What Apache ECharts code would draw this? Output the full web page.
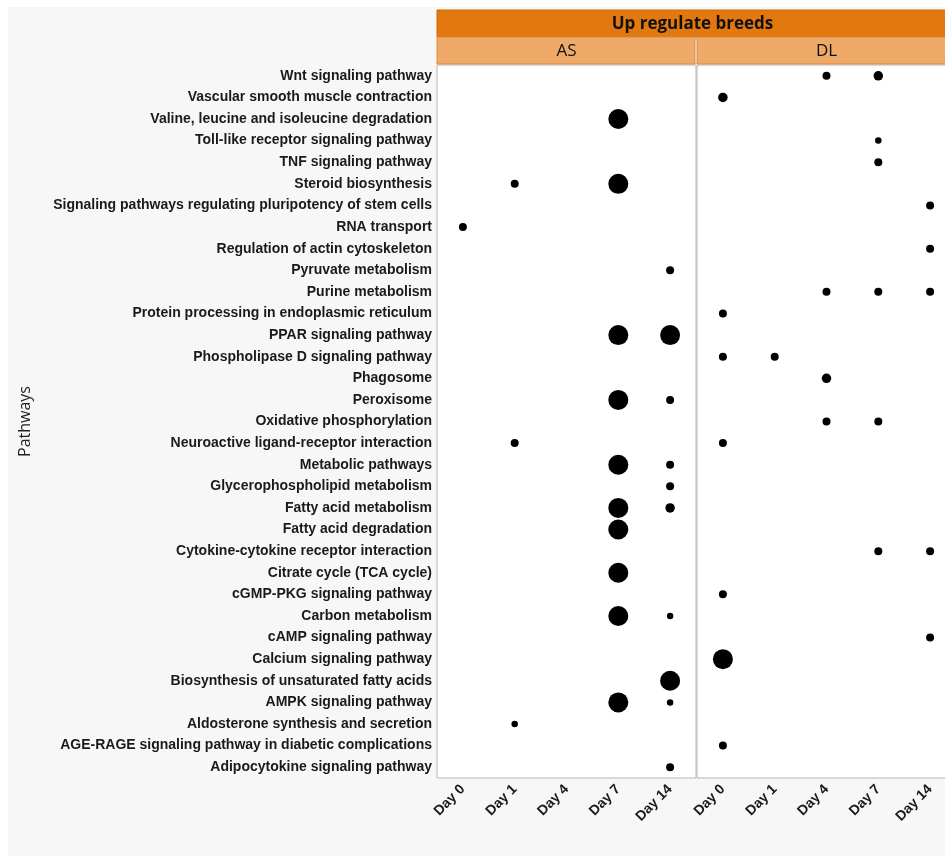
<!DOCTYPE html>
<html>
<head>
<meta charset="utf-8">
<script src="https://cdn.jsdelivr.net/npm/echarts@6/dist/echarts.min.js"></script>
<style>
  html, body { margin: 0; padding: 0; background: #ffffff; }
  #chart { width: 945px; height: 859px; }
</style>
</head>
<body>
<div id="chart"></div>
<script>
// Pathways listed top to bottom
const pathways = [
  'Wnt signaling pathway',
  'Vascular smooth muscle contraction',
  'Valine, leucine and isoleucine degradation',
  'Toll-like receptor signaling pathway',
  'TNF signaling pathway',
  'Steroid biosynthesis',
  'Signaling pathways regulating pluripotency of stem cells',
  'RNA transport',
  'Regulation of actin cytoskeleton',
  'Pyruvate metabolism',
  'Purine metabolism',
  'Protein processing in endoplasmic reticulum',
  'PPAR signaling pathway',
  'Phospholipase D signaling pathway',
  'Phagosome',
  'Peroxisome',
  'Oxidative phosphorylation',
  'Neuroactive ligand-receptor interaction',
  'Metabolic pathways',
  'Glycerophospholipid metabolism',
  'Fatty acid metabolism',
  'Fatty acid degradation',
  'Cytokine-cytokine receptor interaction',
  'Citrate cycle (TCA cycle)',
  'cGMP-PKG signaling pathway',
  'Carbon metabolism',
  'cAMP signaling pathway',
  'Calcium signaling pathway',
  'Biosynthesis of unsaturated fatty acids',
  'AMPK signaling pathway',
  'Aldosterone synthesis and secretion',
  'AGE-RAGE signaling pathway in diabetic complications',
  'Adipocytokine signaling pathway'
];

const days = ['Day 0', 'Day 1', 'Day 4', 'Day 7', 'Day 14'];
const breeds = ['AS', 'DL'];
const headerTitle = 'Up regulate breeds';

// [day, pathway, count]
const pointsAS = [
  ['Day 7', 'Valine, leucine and isoleucine degradation', 10],
  ['Day 1', 'Steroid biosynthesis', 2],
  ['Day 7', 'Steroid biosynthesis', 10],
  ['Day 0', 'RNA transport', 2],
  ['Day 14', 'Pyruvate metabolism', 2],
  ['Day 7', 'PPAR signaling pathway', 10],
  ['Day 14', 'PPAR signaling pathway', 10],
  ['Day 7', 'Peroxisome', 10],
  ['Day 14', 'Peroxisome', 2],
  ['Day 1', 'Neuroactive ligand-receptor interaction', 2],
  ['Day 7', 'Metabolic pathways', 10],
  ['Day 14', 'Metabolic pathways', 2],
  ['Day 14', 'Glycerophospholipid metabolism', 2],
  ['Day 7', 'Fatty acid metabolism', 10],
  ['Day 14', 'Fatty acid metabolism', 3],
  ['Day 7', 'Fatty acid degradation', 10],
  ['Day 7', 'Citrate cycle (TCA cycle)', 10],
  ['Day 7', 'Carbon metabolism', 10],
  ['Day 14', 'Carbon metabolism', 1],
  ['Day 14', 'Biosynthesis of unsaturated fatty acids', 10],
  ['Day 7', 'AMPK signaling pathway', 10],
  ['Day 14', 'AMPK signaling pathway', 1],
  ['Day 1', 'Aldosterone synthesis and secretion', 1],
  ['Day 14', 'Adipocytokine signaling pathway', 2]
];

const pointsDL = [
  ['Day 4', 'Wnt signaling pathway', 2],
  ['Day 7', 'Wnt signaling pathway', 3],
  ['Day 0', 'Vascular smooth muscle contraction', 3],
  ['Day 7', 'Toll-like receptor signaling pathway', 1],
  ['Day 7', 'TNF signaling pathway', 2],
  ['Day 14', 'Signaling pathways regulating pluripotency of stem cells', 2],
  ['Day 14', 'Regulation of actin cytoskeleton', 2],
  ['Day 4', 'Purine metabolism', 2],
  ['Day 7', 'Purine metabolism', 2],
  ['Day 14', 'Purine metabolism', 2],
  ['Day 0', 'Protein processing in endoplasmic reticulum', 2],
  ['Day 0', 'Phospholipase D signaling pathway', 2],
  ['Day 1', 'Phospholipase D signaling pathway', 2],
  ['Day 4', 'Phagosome', 3],
  ['Day 4', 'Oxidative phosphorylation', 2],
  ['Day 7', 'Oxidative phosphorylation', 2],
  ['Day 0', 'Neuroactive ligand-receptor interaction', 2],
  ['Day 7', 'Cytokine-cytokine receptor interaction', 2],
  ['Day 14', 'Cytokine-cytokine receptor interaction', 2],
  ['Day 0', 'cGMP-PKG signaling pathway', 2],
  ['Day 14', 'cAMP signaling pathway', 2],
  ['Day 0', 'Calcium signaling pathway', 10],
  ['Day 0', 'AGE-RAGE signaling pathway in diabetic complications', 2]
];

// dot diameter grows with count
function dotSize(v) { return 5 + 1.5 * v[2]; }

const chart = echarts.init(document.getElementById('chart'), null, { renderer: 'canvas' });

const gridTop = 65, gridHeight = 713, panelW = 259;
const leftAS = 437, leftDL = 697;
const labelFont = "'Liberation Sans', Arial, sans-serif";
const stripFont = "'Open Sans', 'Noto Sans', sans-serif";

const xLabel = {
  rotate: 45,
  fontFamily: labelFont,
  fontWeight: 'bold',
  fontSize: 14,
  color: '#1a1a1a',
  margin: 9,
  interval: 0
};

function xAxisFor(gi) {
  return {
    type: 'category', gridIndex: gi, data: days,
    axisLine: { show: false }, axisTick: { show: false },
    splitLine: { show: false },
    axisLabel: xLabel
  };
}

function yAxisFor(gi, showLabels) {
  return {
    type: 'category', gridIndex: gi, data: pathways, inverse: true,
    axisLine: { show: false }, axisTick: { show: false },
    splitLine: { show: false },
    name: showLabels ? 'Pathways' : '',
    nameLocation: 'middle',
    nameGap: 404,
    nameTextStyle: { fontFamily: stripFont, fontSize: 16, color: '#222' },
    axisLabel: {
      show: showLabels,
      fontFamily: labelFont,
      fontWeight: 'bold',
      fontSize: 14,
      color: '#1a1a1a',
      margin: 5,
      interval: 0
    }
  };
}

const option = {
  backgroundColor: '#ffffff',
  animation: false,
  graphic: [
    { type: 'rect', z: -10, shape: { x: 8, y: 7, width: 945, height: 849 }, style: { fill: '#f7f7f7' } },
    { type: 'rect', z: -5, shape: { x: leftAS, y: gridTop, width: leftDL + panelW - leftAS, height: gridHeight }, style: { fill: '#ffffff' } },
    // header strips
    { type: 'rect', z: 10, shape: { x: leftAS, y: 10, width: 520, height: 27 }, style: { fill: '#e3790e', stroke: '#c96a08', lineWidth: 1 } },
    { type: 'text', z: 11, style: { text: headerTitle, x: (leftAS + leftDL + panelW) / 2 - 4, y: 24, align: 'center', verticalAlign: 'middle', font: 'bold 17px ' + stripFont, fill: '#111' } },
    { type: 'rect', z: 10, shape: { x: leftAS, y: 37, width: panelW - 1, height: 27 }, style: { fill: '#efaa6a', stroke: '#d98a40', lineWidth: 1 } },
    { type: 'rect', z: 10, shape: { x: leftDL, y: 37, width: panelW + 10, height: 27 }, style: { fill: '#efaa6a', stroke: '#d98a40', lineWidth: 1 } },
    { type: 'text', z: 11, style: { text: breeds[0], x: leftAS + panelW / 2, y: 51, align: 'center', verticalAlign: 'middle', font: '17px ' + stripFont, fill: '#111' } },
    { type: 'text', z: 11, style: { text: breeds[1], x: leftDL + panelW / 2, y: 51, align: 'center', verticalAlign: 'middle', font: '17px ' + stripFont, fill: '#111' } }
  ],
  grid: [
    { left: leftAS, top: gridTop, width: panelW, height: gridHeight, outerBoundsMode: 'none', containLabel: false, show: true, borderColor: '#b5b5b5', borderWidth: 1, backgroundColor: 'transparent' },
    { left: leftDL, top: gridTop, width: panelW, height: gridHeight, outerBoundsMode: 'none', containLabel: false, show: true, borderColor: '#b5b5b5', borderWidth: 1, backgroundColor: 'transparent' }
  ],
  xAxis: [xAxisFor(0), xAxisFor(1)],
  yAxis: [yAxisFor(0, true), yAxisFor(1, false)],
  series: [
    {
      name: breeds[0], type: 'scatter', xAxisIndex: 0, yAxisIndex: 0,
      data: pointsAS, symbolSize: dotSize,
      itemStyle: { color: '#000000', opacity: 1 }
    },
    {
      name: breeds[1], type: 'scatter', xAxisIndex: 1, yAxisIndex: 1,
      data: pointsDL, symbolSize: dotSize,
      itemStyle: { color: '#000000', opacity: 1 }
    }
  ]
};

chart.setOption(option);
</script>
</body>
</html>
